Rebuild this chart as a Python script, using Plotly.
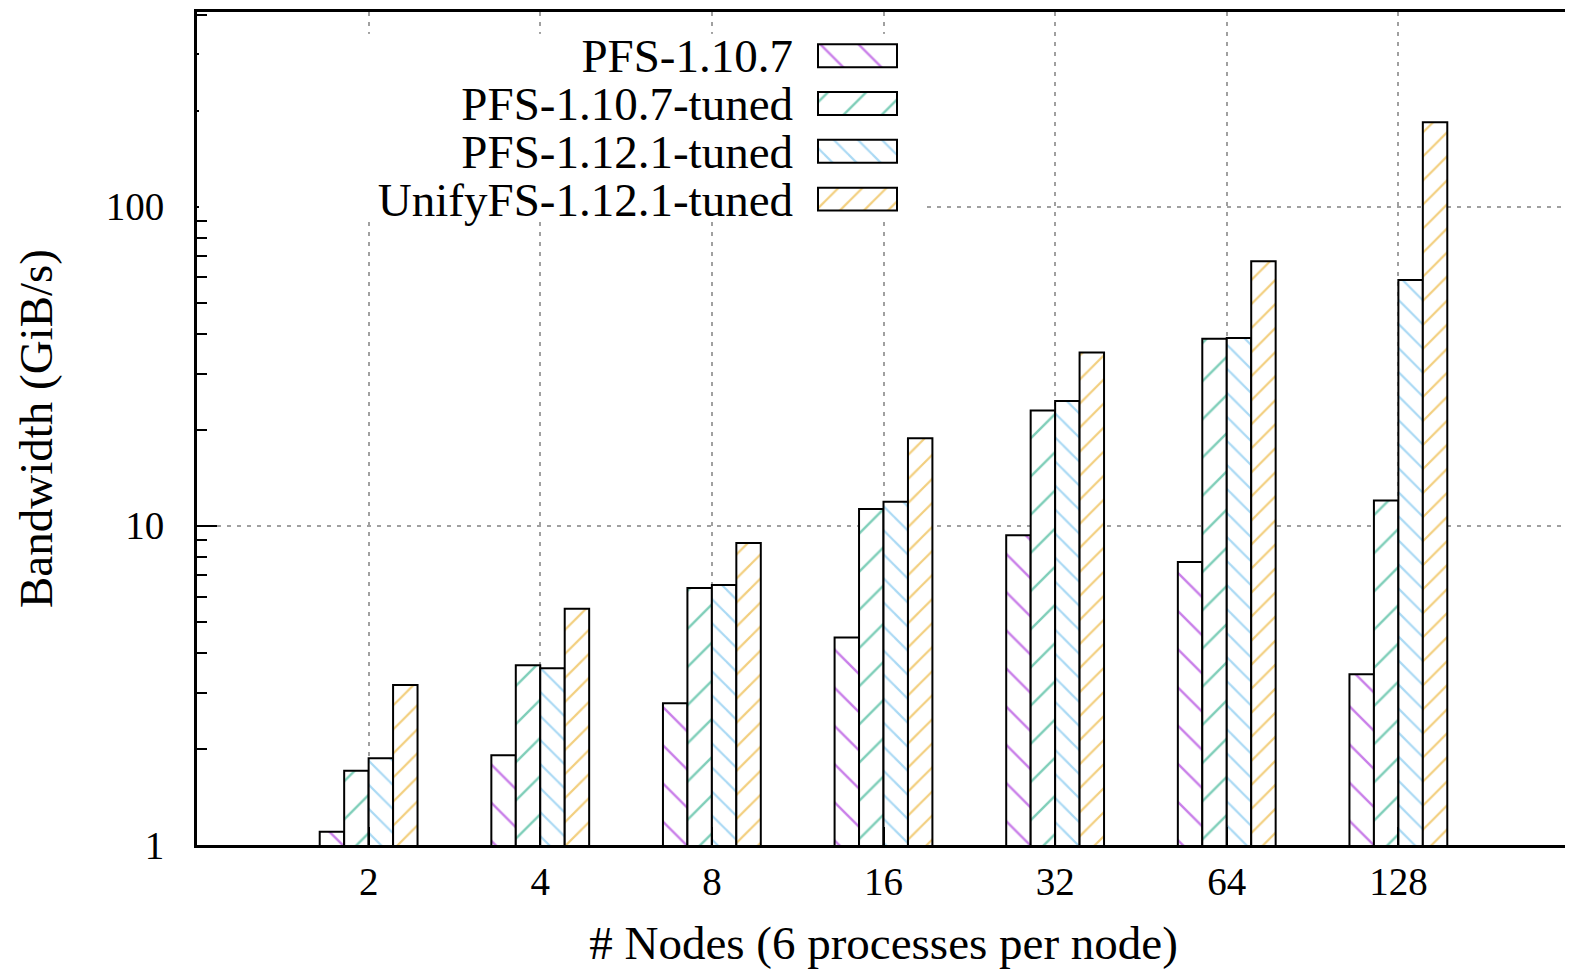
import plotly.graph_objects as go

nodes = ["2", "4", "8", "16", "32", "64", "128"]
series_names = ["PFS-1.10.7", "PFS-1.10.7-tuned", "PFS-1.12.1-tuned", "UnifyFS-1.12.1-tuned"]
pfs_1107 = [1.10, 1.91, 2.78, 4.47, 9.34, 7.70, 3.43]
pfs_1107_tuned = [1.71, 3.66, 6.39, 11.3, 23.0, 38.6, 12.0]
pfs_1121_tuned = [1.87, 3.58, 6.53, 11.9, 24.6, 38.8, 58.9]
unifyfs_1121_tuned = [3.17, 5.50, 8.83, 18.8, 34.9, 67.4, 184.0]

series_values = [pfs_1107, pfs_1107_tuned, pfs_1121_tuned, unifyfs_1121_tuned]
colors = ["#9400D3", "#009E73", "#56B4E9", "#E69F00"]
shapes_ = ["\\", "/", "\\", "/"]
psizes = [27, 27, 17, 17]
solid = [0.09, 0.09, 0.13, 0.13]

FONT = "Liberation Serif"
OFF = 8  # page body margin
W, H = 1573 - OFF, 974 - OFF
# plot area in page pixels
PL, PR, PT, PB = 197, 1570, 8, 845
ML, MR, MT, MB = PL - OFF, W - (PR - OFF), PT - OFF, H - (PB - OFF)
pw = W - ML - MR
ph = H - MT - MB

def px_x(p):
    return (p - OFF - ML) / pw

def px_y(p):
    return (H - MB - (p - OFF)) / ph

fig = go.Figure()
for name, vals, c, s, ps, so in zip(series_names, series_values, colors, shapes_, psizes, solid):
    fig.add_trace(go.Bar(
        x=nodes, y=vals, name=name, showlegend=False,
        marker=dict(color="white", line=dict(color="black", width=2),
                    pattern=dict(shape=s, fgcolor=c, bgcolor="white", size=ps, solidity=so)),
        xaxis="x", yaxis="y",
    ))

# key: a small horizontal bar chart on its own (opaque) axes
KEY_L, KEY_R, KEY_T, KEY_B = 199, 922, 30, 213   # opaque key area (page px)
SW_L, SW_R = 818, 897                             # swatch horizontal extent
ROW0, PITCH = 52, 48                              # first row centre, row pitch
kw = KEY_R - KEY_L
su = (SW_R - SW_L)
x2r0 = -(SW_L - KEY_L) / su
x2r1 = x2r0 + kw / su
y2top = -(ROW0 - KEY_T) / PITCH
y2bot = y2top + (KEY_B - KEY_T) / PITCH

fig.add_trace(go.Bar(
    x=[1, 1, 1, 1], y=series_names, orientation="h", showlegend=False,
    marker=dict(color="white", line=dict(color="black", width=2),
                pattern=dict(shape=shapes_, fgcolor=colors, bgcolor="white", size=psizes, solidity=solid)),
    xaxis="x2", yaxis="y2", width=0.48,
))

minor_vals = [2, 3, 4, 5, 6, 7, 8, 9, 20, 30, 40, 50, 60, 70, 80, 90, 200, 300, 400]

fig.update_layout(
    width=W, height=H,
    margin=dict(l=ML, r=MR, t=MT, b=MB),
    paper_bgcolor="white", plot_bgcolor="white",
    barmode="group", bargap=0.43, bargroupgap=0,
    font=dict(family=FONT, size=39, color="black"),
    xaxis=dict(
        type="category", range=[-1, 7], categoryorder="array", categoryarray=nodes,
        showline=True, linecolor="black", linewidth=3, mirror=True,
        ticks="inside", ticklen=18, tickwidth=1.5, tickcolor="black",
        showgrid=True, gridcolor="#a0a0a0", griddash="4px,6px", gridwidth=1.5,
        tickfont=dict(family=FONT, size=39),
        title=dict(text="# Nodes (6 processes per node)", font=dict(family=FONT, size=47), standoff=25),
        zeroline=False,
    ),
    yaxis=dict(
        type="log", range=[0, 2.61],
        tickvals=[1, 10, 100], ticktext=["1", "10", "100"],
        showline=True, linecolor="black", linewidth=3, mirror=True,
        ticks="inside", ticklen=20, tickwidth=1.5, tickcolor="black",
        minor=dict(tickmode="array", tickvals=minor_vals, ticks="inside", ticklen=10,
                   tickwidth=1.5, tickcolor="black", showgrid=False),
        showgrid=True, gridcolor="#a0a0a0", griddash="4px,6px", gridwidth=1.5,
        tickfont=dict(family=FONT, size=39), ticklabelstandoff=22,
        title=dict(text="Bandwidth (GiB/s)", font=dict(family=FONT, size=47), standoff=39),
        zeroline=False,
    ),
    xaxis2=dict(domain=[px_x(KEY_L), px_x(KEY_R)], anchor="y2", range=[x2r0, x2r1],
                showgrid=False, showticklabels=False, showline=False, zeroline=False, ticks=""),
    yaxis2=dict(domain=[px_y(KEY_B), px_y(KEY_T)], anchor="free", position=px_x(SW_L),
                type="category", categoryorder="array", categoryarray=series_names,
                range=[y2bot, y2top], tickmode="array", tickvals=series_names, ticktext=series_names,
                showgrid=False, showline=False, zeroline=False, ticks="",
                tickfont=dict(family=FONT, size=47), ticklabelstandoff=25),
)

fig.write_html("out.html")
